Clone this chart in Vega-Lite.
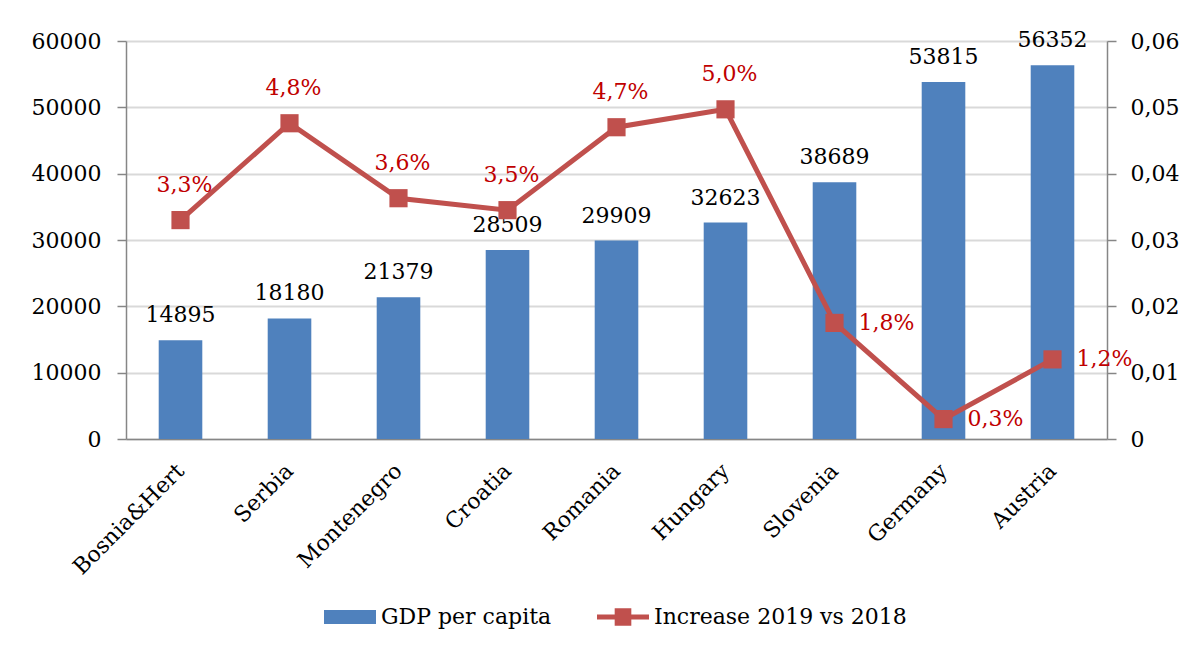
{
  "$schema": "https://vega.github.io/schema/vega-lite/v6.json",
  "width": 981,
  "height": 398,
  "autosize": {"type": "none"},
  "padding": {"left": 126, "top": 41, "right": 75, "bottom": 216},
  "background": "white",
  "config": {
    "font": "DejaVu Serif",
    "locale": {"number": {"decimal": ",", "thousands": "", "grouping": [3], "currency": ["", ""]}},
    "view": {"stroke": null},
    "axis": {
      "labelFont": "DejaVu Serif",
      "labelFontSize": 22,
      "labelColor": "#000000",
      "domainColor": "#868686",
      "domainWidth": 1.5,
      "tickColor": "#868686",
      "tickWidth": 1.5,
      "gridColor": "#D9D9D9",
      "gridWidth": 2,
      "title": null
    }
  },
  "data": {
    "values": [
      {"country": "Bosnia&Hert", "gdp": 14895, "inc": 0.033, "lab": "3,3%"},
      {"country": "Serbia", "gdp": 18180, "inc": 0.0476, "lab": "4,8%"},
      {"country": "Montenegro", "gdp": 21379, "inc": 0.0363, "lab": "3,6%"},
      {"country": "Croatia", "gdp": 28509, "inc": 0.0345, "lab": "3,5%"},
      {"country": "Romania", "gdp": 29909, "inc": 0.047, "lab": "4,7%"},
      {"country": "Hungary", "gdp": 32623, "inc": 0.0497, "lab": "5,0%"},
      {"country": "Slovenia", "gdp": 38689, "inc": 0.0175, "lab": "1,8%"},
      {"country": "Germany", "gdp": 53815, "inc": 0.003, "lab": "0,3%"},
      {"country": "Austria", "gdp": 56352, "inc": 0.012, "lab": "1,2%"}
    ]
  },
  "encoding": {
    "x": {
      "field": "country",
      "type": "nominal",
      "sort": null,
      "scale": {"paddingInner": 0.6, "paddingOuter": 0.3},
      "axis": {
        "labelAngle": -45,
        "labelAlign": "right",
        "labelBaseline": "middle",
        "labelPadding": 28,
        "ticks": false,
        "grid": false
      }
    }
  },
  "layer": [
    {
      "encoding": {
        "y": {
          "field": "gdp",
          "type": "quantitative",
          "scale": {"domain": [0, 60000], "nice": false},
          "axis": {
            "orient": "left",
            "values": [0, 10000, 20000, 30000, 40000, 50000, 60000],
            "format": "d",
            "tickSize": 9,
            "labelPadding": 16,
            "grid": true
          }
        }
      },
      "layer": [
        {
          "mark": {"type": "bar"},
          "encoding": {
            "color": {
              "datum": "GDP per capita",
              "type": "nominal",
              "scale": {
                "domain": ["GDP per capita", "Increase 2019 vs 2018"],
                "range": ["#4F81BD", "#C0504D"]
              },
              "legend": {
                "orient": "none",
                "legendX": 198,
                "legendY": 550,
                "direction": "horizontal",
                "title": null,
                "labelFont": "DejaVu Serif",
                "labelFontSize": 22,
                "labelColor": "#000000",
                "labelLimit": 0,
                "symbolSize": 2704,
                "labelOffset": 5,
                "columnPadding": 45,
                "symbolStrokeWidth": 0,
                "encode": {
                  "symbols": {
                    "update": {
                      "shape": {"signal": "datum.value === 'GDP per capita' ? 'M-1,-0.27H1V0.27H-1Z' : 'M-1,-0.1H-0.32V-0.34H0.32V-0.1H1V0.1H0.32V0.34H-0.32V0.1H-1Z'"},
                      "fill": {"signal": "datum.value === 'GDP per capita' ? '#4F81BD' : '#C0504D'"},
                      "stroke": {"value": "transparent"},
                      "opacity": {"value": 1}
                    }
                  }
                }
              }
            }
          }
        },
        {
          "mark": {"type": "text", "baseline": "alphabetic", "dy": -18, "fontSize": 22, "font": "DejaVu Serif", "color": "#000000"},
          "encoding": {
            "text": {"field": "gdp", "type": "quantitative", "format": "d"}
          }
        }
      ]
    },
    {
      "encoding": {
        "y": {
          "field": "inc",
          "type": "quantitative",
          "scale": {"domain": [0, 0.06], "nice": false},
          "axis": {
            "orient": "right",
            "values": [0, 0.01, 0.02, 0.03, 0.04, 0.05, 0.06],
            "format": ".2~f",
            "tickSize": 9,
            "labelPadding": 14,
            "grid": false
          }
        }
      },
      "layer": [
        {
          "mark": {"type": "line", "strokeWidth": 5},
          "encoding": {
            "color": {"datum": "Increase 2019 vs 2018", "type": "nominal"}
          }
        },
        {
          "mark": {"type": "point", "shape": "square", "filled": true, "size": 330, "color": "#C0504D", "opacity": 1}
        },
        {
          "transform": [{"filter": {"field": "country", "oneOf": ["Bosnia&Hert", "Serbia", "Montenegro", "Croatia", "Romania", "Hungary"]}}],
          "mark": {"type": "text", "baseline": "alphabetic", "dy": -28, "dx": 4, "fontSize": 22, "font": "DejaVu Serif", "color": "#C00000"},
          "encoding": {"text": {"field": "lab", "type": "nominal"}}
        },
        {
          "transform": [{"filter": {"field": "country", "oneOf": ["Slovenia", "Germany", "Austria"]}}],
          "mark": {"type": "text", "align": "left", "baseline": "middle", "dx": 24, "fontSize": 22, "font": "DejaVu Serif", "color": "#C00000"},
          "encoding": {"text": {"field": "lab", "type": "nominal"}}
        }
      ]
    }
  ],
  "resolve": {"scale": {"y": "independent"}}
}
